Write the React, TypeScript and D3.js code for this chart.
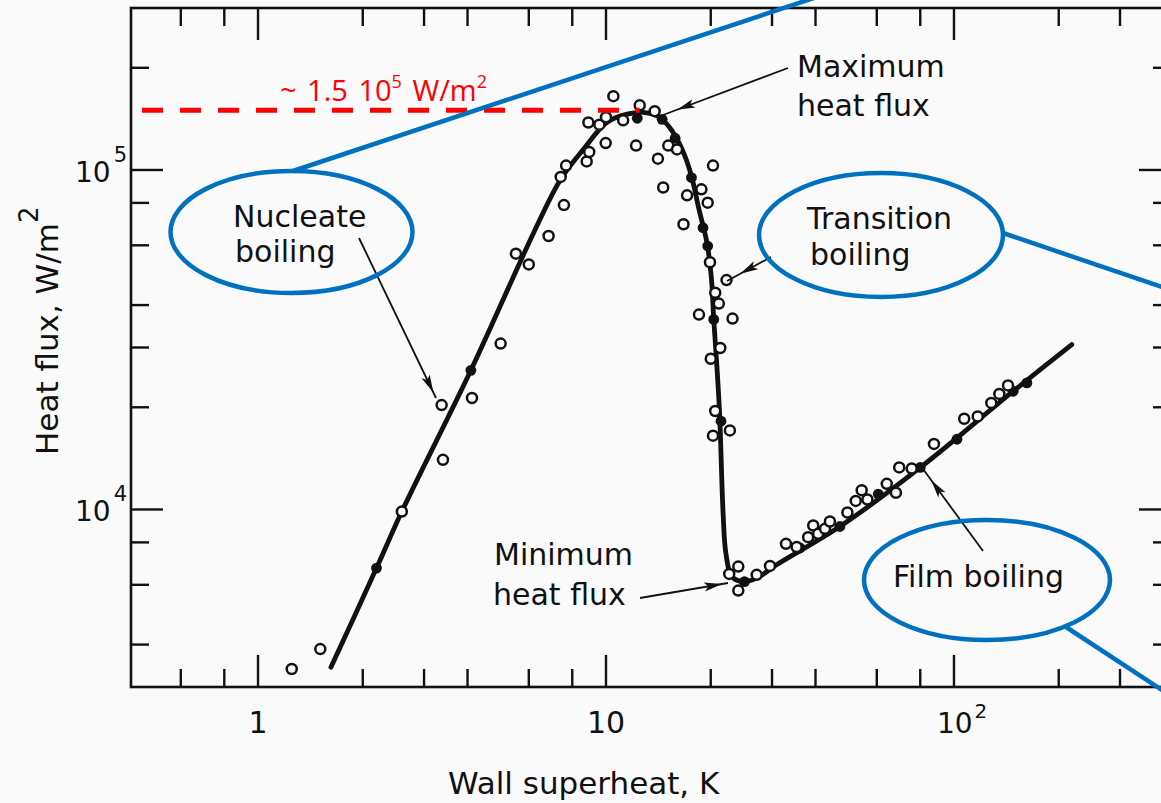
import * as d3 from "d3";

// Smooth boiling curve: wall superheat (K) vs heat flux (W/m²)
const curveSuperheat = [1.62, 2.19, 2.59, 4.09, 6.26, 7.41, 8.61, 10.05, 11.5, 12.8, 14.3, 15.6, 16.7, 17.6, 18.5, 19.5, 20.1, 20.4, 20.8, 21.2, 21.7, 22.1, 23.0, 24.8, 27.1, 30.9, 47.0, 81.3, 148, 218];
const curveFlux = [3430, 6720, 9860, 25700, 66800, 93900, 115000, 138000, 146000, 147700, 142800, 128900, 112500, 96000, 76600, 61100, 47600, 36300, 27000, 19250, 9780, 7450, 6340, 6130, 6280, 6870, 8910, 13460, 22300, 30600];

// Measurements drawn as open circles
const openSuperheat = [1.25, 1.51, 2.59, 3.40, 3.37, 4.12, 4.98, 5.51, 6.0, 6.84, 7.57, 7.41, 7.68, 8.80, 8.95, 8.90, 9.57, 9.98, 10.0, 10.5, 11.2, 12.2, 12.5, 13.8, 14.1, 14.6, 15.1, 16.0, 16.7, 17.1, 18.8, 19.6, 20.3, 19.9, 22.2, 18.5, 23.1, 21.1, 20.6, 21.3, 20.0, 20.6, 20.3, 22.7, 24.0, 22.6, 24.0, 27.1, 29.6, 32.9, 35.3, 38.1, 39.4, 40.7, 42.6, 44.0, 49.4, 52.2, 54.3, 56.4, 64.1, 68.1, 69.6, 75.6, 87.6, 107, 117, 128, 135, 143];
const openFlux = [3390, 3880, 9860, 14000, 20300, 21300, 30800, 56700, 52700, 63900, 78800, 95400, 103000, 106000, 113000, 138000, 136000, 120000, 143000, 165000, 140000, 118000, 155000, 149000, 108000, 88800, 118000, 115000, 69200, 84200, 87700, 80100, 103000, 53500, 47400, 37500, 36500, 40400, 43500, 29900, 27800, 19500, 16500, 17100, 6790, 6460, 5770, 6420, 6820, 7920, 7750, 8290, 8970, 8480, 8770, 9220, 9800, 10600, 11400, 10700, 11900, 11200, 13300, 13200, 15600, 18500, 18800, 20600, 21900, 23200];

// Measurements drawn as filled dots
const filledSuperheat = [2.19, 4.09, 12.3, 14.5, 15.8, 17.6, 19.0, 19.6, 20.4, 21.4, 25.0, 36.1, 47.0, 60.6, 80, 102, 148, 162];
const filledFlux = [6720, 25700, 142000, 141000, 124000, 95000, 67600, 59700, 36300, 18200, 6130, 7700, 8910, 11100, 13300, 16100, 22300, 23600];

// Axis ticks
const xTicks = [0.6, 0.8, 1, 2, 3, 4, 6, 8, 10, 20, 30, 40, 60, 80, 100, 200, 300, 400];
const xMajor = [1, 10, 100];
const yTicks = [4000, 6000, 8000, 1e4, 2e4, 3e4, 4e4, 6e4, 8e4, 1e5, 2e5];
const yMajor = [1e4, 1e5];
const xTickLabels = [
  { v: 1, base: "1", exp: "" },
  { v: 10, base: "10", exp: "" },
  { v: 100, base: "10", exp: "2" },
];
const yTickLabels = [
  { v: 1e4, base: "10", exp: "4" },
  { v: 1e5, base: "10", exp: "5" },
];

// Maximum heat flux reference line
const maxFlux = 1.5e5;
const maxLineFrom = 0.464;
const maxLineTo = 12.5;

const W = 1161;
const H = 803;
const FONT = "'DejaVu Sans', sans-serif";
const BLUE = "#0070C0";
const RED = "#FF0000";
const INK = "#111";

const x = d3.scaleLog().domain([0.4315, 420.4]).range([131, 1171]);
const y = d3.scaleLog().domain([3000, 3e5]).range([687, 8]);

const MINOR = 18;
const MAJOR = 32;

type P = [number, number];

function arrowHead(from: P, to: P, offset: number) {
  const dx = to[0] - from[0];
  const dy = to[1] - from[1];
  const len = Math.hypot(dx, dy);
  const ux = dx / len;
  const uy = dy / len;
  const cx = to[0] - ux * offset;
  const cy = to[1] - uy * offset;
  const tip: P = [cx + ux * 9, cy + uy * 9];
  const base: P = [cx - ux * 9, cy - uy * 9];
  const l: P = [base[0] - uy * 4.5, base[1] + ux * 4.5];
  const r: P = [base[0] + uy * 4.5, base[1] - ux * 4.5];
  return `M${tip[0]},${tip[1]}L${l[0]},${l[1]}L${cx - ux * 5},${cy - uy * 5}L${r[0]},${r[1]}Z`;
}

const arrows: { from: P; to: P; off: number }[] = [
  { from: [788, 68], to: [663, 115], off: 24 },
  { from: [359, 238], to: [436, 398], off: 15 },
  { from: [771, 257], to: [727, 281], off: 24 },
  { from: [640, 598], to: [728, 583], off: 15 },
  { from: [983, 551], to: [923, 469], off: 23 },
];

const notes = [
  { lines: ["Maximum", "heat flux"], xs: [797, 797], ys: [77, 116] },
  { lines: ["Transition", "boiling"], xs: [807, 810], ys: [229, 265] },
  { lines: ["Nucleate", "boiling"], xs: [233, 235], ys: [227, 262] },
  { lines: ["Minimum", "heat flux"], xs: [494, 493], ys: [565, 605] },
  { lines: ["Film boiling"], xs: [893], ys: [587] },
];

const ellipses = [
  { cx: 291.5, cy: 232, rx: 121, ry: 61 },
  { cx: 881, cy: 235, rx: 122, ry: 62 },
  { cx: 987, cy: 580, rx: 123, ry: 60 },
];
const blueLines: { from: P; to: P }[] = [
  { from: [293, 171], to: [835, -9] },
  { from: [1003, 233], to: [1200, 300] },
  { from: [1066, 627], to: [1200, 715] },
];

export default function App() {
  const curvePts = curveSuperheat.map((v, i) => [x(v), y(curveFlux[i])] as P);
  const line = d3.line<P>().curve(d3.curveCatmullRom.alpha(0.5));
  const left = x.range()[0];
  const right = x.range()[1];
  const bottom = y.range()[0];
  const top = y.range()[1];

  return (
    <svg
      width={W}
      height={H}
      style={{ position: "fixed", left: 0, top: 0, background: "#fafafa" }}
      fontFamily={FONT}
    >
      {/* frame */}
      <rect x={left} y={top} width={right - left} height={bottom - top} fill="none" stroke={INK} strokeWidth={2.6} />

      {/* ticks */}
      <g stroke={INK} strokeWidth={2.4}>
        {xTicks.map((t) => {
          const len = xMajor.includes(t) ? MAJOR : MINOR;
          return (
            <g key={"x" + t}>
              <line x1={x(t)} x2={x(t)} y1={bottom} y2={bottom - len} />
              <line x1={x(t)} x2={x(t)} y1={top} y2={top + len} />
            </g>
          );
        })}
        {yTicks.map((t) => {
          const len = yMajor.includes(t) ? MAJOR : MINOR;
          return (
            <g key={"y" + t}>
              <line x1={left} x2={left + len} y1={y(t)} y2={y(t)} />
              <line x1={right} x2={right - len} y1={y(t)} y2={y(t)} />
            </g>
          );
        })}
      </g>

      {/* tick labels */}
      <g fill={INK} fontSize={28}>
        {xTickLabels.map((d) =>
          d.exp ? (
            <text key={"xl" + d.v} x={x(d.v) - 17} y={733}>
              {d.base}
              <tspan dx={2} dy={-15} fontSize={20}>
                {d.exp}
              </tspan>
            </text>
          ) : (
            <text key={"xl" + d.v} x={x(d.v)} y={733} textAnchor="middle" fontSize={30}>
              {d.base}
            </text>
          )
        )}
        {yTickLabels.map((d) => (
          <text key={"yl" + d.v} x={75} y={y(d.v) + 12}>
            {d.base}
            <tspan dx={3} dy={-20} fontSize={21}>
              {d.exp}
            </tspan>
          </text>
        ))}
      </g>

      {/* axis titles */}
      <text x={448} y={794} fontSize={31} fill={INK}>
        Wall superheat, K
      </text>
      <text transform="translate(58,455) rotate(-90)" fontSize={31} fill={INK}>
        Heat flux, W/m
        <tspan dy={-20} fontSize={26}>2</tspan>
      </text>

      {/* boiling curve */}
      <path d={line(curvePts) ?? ""} fill="none" stroke={INK} strokeWidth={4.8} strokeLinecap="round" strokeLinejoin="round" />

      {/* filled measurements */}
      <g fill={INK}>
        {filledSuperheat.map((v, i) => (
          <circle key={"f" + i} cx={x(v)} cy={y(filledFlux[i])} r={5.4} />
        ))}
      </g>

      {/* open measurements */}
      <g fill="#fafafa" stroke={INK} strokeWidth={2.5}>
        {openSuperheat.map((v, i) => (
          <circle key={"o" + i} cx={x(v)} cy={y(openFlux[i])} r={5} />
        ))}
      </g>

      {/* annotation arrows */}
      <g>
        {arrows.map((a, i) => (
          <g key={"a" + i}>
            <line x1={a.from[0]} y1={a.from[1]} x2={a.to[0]} y2={a.to[1]} stroke={INK} strokeWidth={1.8} />
            <path d={arrowHead(a.from, a.to, a.off)} fill={INK} />
          </g>
        ))}
      </g>

      {/* annotation text */}
      <g fontSize={30} fill={INK}>
        {notes.map((n, i) =>
          n.lines.map((s, j) => (
            <text key={"n" + i + j} x={n.xs[j]} y={n.ys[j]}>
              {s}
            </text>
          ))
        )}
      </g>

      {/* maximum heat flux overlay */}
      <line
        x1={x(maxLineFrom)}
        x2={x(maxLineTo)}
        y1={y(maxFlux)}
        y2={y(maxFlux)}
        stroke={RED}
        strokeWidth={5}
        strokeDasharray="21,17"
      />
      <text x={280} y={101} fill={RED} fontSize={29} fontFamily="'Open Sans', sans-serif" wordSpacing={3}>
        ~ 1.5 10
        <tspan dy={-13} fontSize={18}>5</tspan>
        <tspan dy={13}> W/m</tspan>
        <tspan dy={-13} fontSize={18}>2</tspan>
      </text>

      {/* blue callouts */}
      <g fill="none" stroke={BLUE} strokeWidth={4.5}>
        {ellipses.map((e, i) => (
          <ellipse key={"e" + i} cx={e.cx} cy={e.cy} rx={e.rx} ry={e.ry} />
        ))}
        {blueLines.map((l, i) => (
          <line key={"b" + i} x1={l.from[0]} y1={l.from[1]} x2={l.to[0]} y2={l.to[1]} />
        ))}
      </g>
    </svg>
  );
}
